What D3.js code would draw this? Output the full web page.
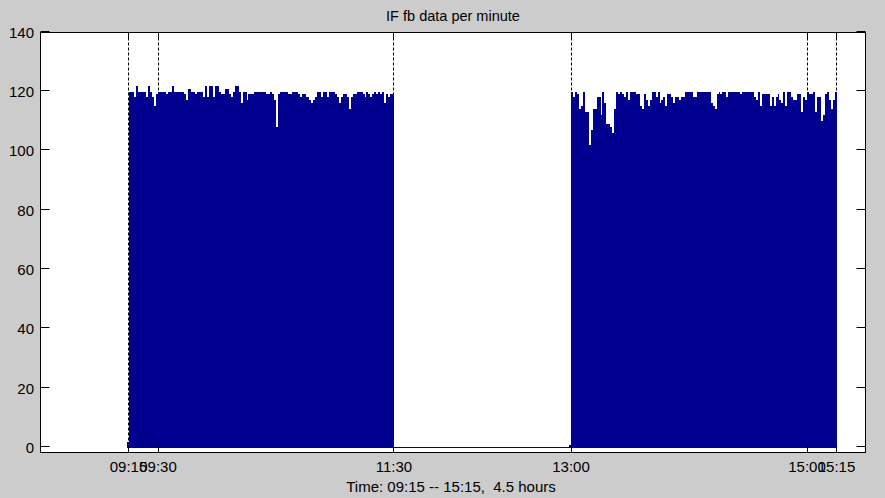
<!DOCTYPE html>
<html><head><meta charset="utf-8">
<script src="https://cdn.jsdelivr.net/npm/d3@7"></script>
<style>
body{margin:0;background:#cccccc;}
svg{display:block;}
text{font-family:"Liberation Sans",Arial,Helvetica,sans-serif;fill:#000;white-space:pre;}
</style>
</head><body>
<svg id="chart" width="885" height="498"></svg>
<script>
const chartTitle = "IF fb data per minute";
const xAxisLabel = "Time: 09:15 -- 15:15,  4.5 hours";
const axisStart = "08:30", axisEnd = "15:30";
const xTickLabels = ["09:15","09:30","11:30","13:00","15:00","15:15"];
const markerTimes = ["09:15","09:30","11:30","13:00","15:00","15:15"];
const yTickValues = [0,20,40,60,80,100,120,140];
const yMax = 140;

// per-minute counts, morning session starting 09:14
const morningStart = "09:14";
const morningValues = [2,
120,120,120,118,122,120,120,120,120,118,
122,120,118,115,119,120,120,120,120,119,
120,120,122,120,120,120,120,120,119,117,
121,121,120,120,119,120,120,120,118,122,
118,122,122,118,122,122,120,119,119,121,
121,119,118,120,122,122,120,116,120,120,
117,119,119,119,120,120,120,120,
120,120,119,119,120,119,117,108,119,120,
120,120,120,119,119,120,120,120,119,118,
119,119,118,118,117,116,117,118,120,120,
118,120,120,118,120,120,120,119,118,116,
118,119,119,118,114,118,119,119,120,120,
120,119,118,120,119,118,119,120,119,120,
119,120,116,119,118,119,119];

// idle period (zero counts)
const idleStart = "11:30", idleEnd = "12:59";

// afternoon session starting 12:59
const afternoonStart = "12:59";
const afternoonValues = [1,
120,118,120,119,114,115,120,113,113,102,
107,114,114,118,118,112,120,116,109,109,
108,106,114,120,119,120,119,118,120,117,
120,120,120,119,119,115,114,119,117,115,
117,120,120,118,120,116,117,118,115,119,
119,118,116,118,118,117,118,118,120,120,
120,120,118,118,120,120,120,
120,120,120,120,116,115,114,119,120,119,
120,120,118,120,120,120,120,120,120,119,
120,120,120,120,120,120,118,117,120,115,
119,119,119,119,115,118,115,118,119,117,
116,120,115,120,120,118,117,117,119,119,
113,118,117,120,119,119,120,113,118,118,
110,112,119,120,117,114,117,120];

const toMin = s => { const [h,m] = s.split(":").map(Number); return h*60+m; };

const bars = [];
morningValues.forEach((v,i)=>bars.push({t: toMin(morningStart)+i, v}));
afternoonValues.forEach((v,i)=>bars.push({t: toMin(afternoonStart)+i, v}));

const svg = d3.select("#chart");
const barColor = "#00008f";

const x = d3.scaleLinear().domain([toMin(axisStart), toMin(axisEnd)]).range([40, 866]);
const y = d3.scaleLinear().domain([0, yMax]).range([447.5, 32.2]);
const boxL = 40.5, boxR = 865.5, boxT = 32.5, boxB = 452.5;
const px = v => Math.floor(v) + 0.5;

// plot background
svg.append("rect").attr("x", boxL).attr("y", boxT).attr("width", boxR-boxL).attr("height", boxB-boxT).attr("fill", "#fff");

// dashed markers
svg.append("g").selectAll("line").data(markerTimes).join("line")
  .attr("x1", d=>px(x(toMin(d)))).attr("x2", d=>px(x(toMin(d))))
  .attr("y1", boxT).attr("y2", boxB)
  .attr("stroke", "#000").attr("stroke-width", 1).attr("stroke-dasharray", "3,2");

// idle zero line
svg.append("line")
  .attr("x1", x(toMin(idleStart))).attr("x2", x(toMin(idleEnd)))
  .attr("y1", px(y(0))).attr("y2", px(y(0)))
  .attr("stroke", barColor).attr("stroke-width", 1).attr("shape-rendering","crispEdges");

// bars
svg.append("g").attr("shape-rendering","crispEdges").selectAll("rect").data(bars).join("rect")
  .attr("x", d=>x(d.t)).attr("width", d=>x(d.t+1)-x(d.t))
  .attr("y", d=>y(d.v)).attr("height", d=>y(0)-y(d.v))
  .attr("fill", barColor);

// axes box
svg.append("rect").attr("x", boxL).attr("y", boxT).attr("width", boxR-boxL).attr("height", boxB-boxT)
  .attr("fill", "none").attr("stroke", "#000").attr("stroke-width", 1);

// y ticks (inward, both sides)
const yt = svg.append("g").attr("stroke","#000").attr("stroke-width",1);
yTickValues.forEach(v=>{
  const yy = px(y(v)) - 1;
  yt.append("line").attr("x1", boxL).attr("x2", boxL+9).attr("y1", yy).attr("y2", yy);
  yt.append("line").attr("x1", boxR-9).attr("x2", boxR).attr("y1", yy).attr("y2", yy);
});
svg.append("g").selectAll("text").data(yTickValues).join("text")
  .attr("x", 34).attr("y", d=>y(d)+5.5).attr("text-anchor","end")
  .attr("font-size", 15).text(d=>d);

// x ticks (inward, top and bottom)
const xt = svg.append("g").attr("stroke","#000").attr("stroke-width",1);
xTickLabels.forEach(s=>{
  const xx = px(x(toMin(s)));
  xt.append("line").attr("x1", xx).attr("x2", xx).attr("y1", boxB).attr("y2", boxB-6);
  xt.append("line").attr("x1", xx).attr("x2", xx).attr("y1", boxT).attr("y2", boxT+6);
});
svg.append("g").selectAll("text").data(xTickLabels).join("text")
  .attr("x", d=>x(toMin(d))).attr("y", 472).attr("text-anchor","middle")
  .attr("font-size", 15).text(d=>d);

// title and axis label
svg.append("text").attr("x", 453).attr("y", 21).attr("text-anchor","middle")
  .attr("font-size", 14.5).text(chartTitle);
svg.append("text").attr("x", 451).attr("y", 492).attr("text-anchor","middle")
  .attr("font-size", 15).text(xAxisLabel);
</script>
</body></html>
